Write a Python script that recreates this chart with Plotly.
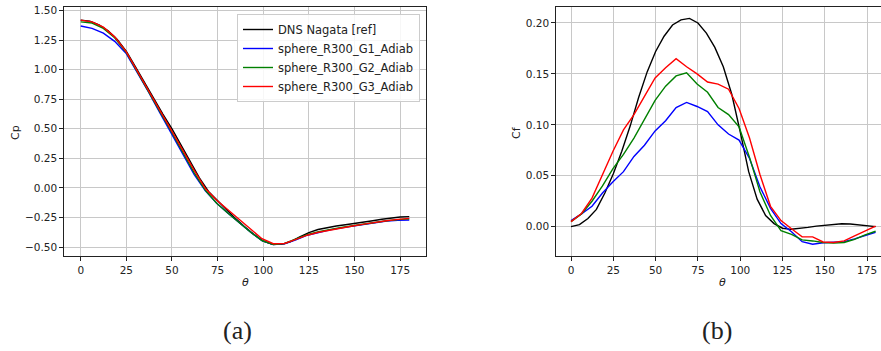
import plotly.graph_objects as go

# ---------------- data ----------------
theta_dns = [0, 5, 10, 15, 20, 25, 30, 35, 40, 45, 50, 55, 60, 65, 70, 75, 80, 85, 90,
             95, 100, 105, 110, 115, 120, 125, 130, 135, 140, 145, 150, 155, 160, 165,
             170, 175, 180]
theta_sim = [0.0, 6.2, 12.4, 18.6, 24.8, 31.0, 37.2, 43.4, 49.7, 55.9, 62.1, 68.3, 74.5,
             80.7, 86.9, 93.1, 99.3, 105.5, 111.7, 117.9, 124.1, 130.3, 136.6, 142.8,
             149.0, 155.2, 161.4, 167.6, 173.8, 180.0]

cp_dns = [1.42, 1.41, 1.38, 1.33, 1.255, 1.155, 1.025, 0.89, 0.755, 0.625, 0.50, 0.36,
          0.215, 0.085, -0.03, -0.11, -0.19, -0.262, -0.33, -0.395, -0.45, -0.478,
          -0.478, -0.455, -0.415, -0.378, -0.352, -0.335, -0.322, -0.312, -0.302, -0.29,
          -0.278, -0.265, -0.255, -0.246, -0.243]
cp_g1 = [1.37, 1.35, 1.31, 1.24, 1.14, 0.98, 0.81, 0.635, 0.46, 0.28, 0.115, -0.025,
         -0.13, -0.215, -0.295, -0.375, -0.445, -0.478, -0.472, -0.44, -0.40, -0.375,
         -0.355, -0.338, -0.322, -0.306, -0.292, -0.28, -0.275, -0.272]
cp_g2 = [1.405, 1.395, 1.35, 1.27, 1.15, 0.985, 0.815, 0.645, 0.475, 0.30, 0.13, -0.02,
         -0.13, -0.215, -0.295, -0.375, -0.445, -0.478, -0.47, -0.435, -0.395, -0.37,
         -0.35, -0.335, -0.32, -0.305, -0.29, -0.278, -0.268, -0.262]
cp_g3 = [1.42, 1.405, 1.36, 1.278, 1.155, 0.99, 0.82, 0.655, 0.49, 0.32, 0.15, -0.005,
         -0.105, -0.185, -0.265, -0.35, -0.43, -0.472, -0.47, -0.435, -0.40, -0.375,
         -0.355, -0.338, -0.322, -0.306, -0.29, -0.278, -0.266, -0.258]

cf_dns = [0.0, 0.002, 0.008, 0.017, 0.033, 0.052, 0.074, 0.099, 0.127, 0.152, 0.172,
          0.187, 0.198, 0.203, 0.2045, 0.200, 0.190, 0.176, 0.157, 0.130, 0.093, 0.054,
          0.027, 0.011, 0.003, -0.0015, -0.0026, -0.002, -0.0007, 0.0005, 0.0012, 0.002,
          0.0028, 0.0026, 0.0016, 0.0008, 0.0]
cf_g1 = [0.006, 0.0125, 0.020, 0.033, 0.044, 0.054, 0.069, 0.080, 0.094, 0.104, 0.117,
         0.122, 0.118, 0.113, 0.100, 0.091, 0.085, 0.067, 0.039, 0.018, 0.003, -0.005,
         -0.0147, -0.0172, -0.0158, -0.0155, -0.0147, -0.012, -0.0088, -0.0055]
cf_g2 = [0.005, 0.0125, 0.025, 0.040, 0.057, 0.071, 0.087, 0.106, 0.124, 0.138, 0.148,
         0.151, 0.140, 0.132, 0.117, 0.110, 0.098, 0.068, 0.034, 0.011, -0.004, -0.0075,
         -0.013, -0.014, -0.0155, -0.0162, -0.0155, -0.0125, -0.008, -0.0045]
cf_g3 = [0.005, 0.013, 0.028, 0.051, 0.074, 0.095, 0.110, 0.128, 0.146, 0.156, 0.165,
         0.157, 0.150, 0.142, 0.140, 0.135, 0.116, 0.087, 0.051, 0.020, 0.006, -0.002,
         -0.010, -0.010, -0.015, -0.0155, -0.014, -0.009, -0.004, 0.0005]

series_names = ["DNS Nagata [ref]", "sphere_R300_G1_Adiab",
                "sphere_R300_G2_Adiab", "sphere_R300_G3_Adiab"]
colors = ["#000000", "#0000ff", "#008000", "#ff0000"]

# ---------------- figure ----------------
W, H = 881, 351
fig = go.Figure()

cp_sets = [(theta_dns, cp_dns), (theta_sim, cp_g1), (theta_sim, cp_g2), (theta_sim, cp_g3)]
cf_sets = [(theta_dns, cf_dns), (theta_sim, cf_g1), (theta_sim, cf_g2), (theta_sim, cf_g3)]

for (x, y), name, c in zip(cp_sets, series_names, colors):
    fig.add_trace(go.Scatter(x=x, y=y, mode="lines", name=name,
                             line=dict(color=c, width=1.4),
                             xaxis="x", yaxis="y", showlegend=True))
for (x, y), name, c in zip(cf_sets, series_names, colors):
    fig.add_trace(go.Scatter(x=x, y=y, mode="lines", name=name,
                             line=dict(color=c, width=1.4),
                             xaxis="x2", yaxis="y2", showlegend=False))

ydom = [1 - 256 / H, 1 - 7.3 / H]
tickfont = dict(family="DejaVu Sans", size=10.5, color="#222222")
common = dict(showgrid=True, gridcolor="#c8c8c8", gridwidth=1, zeroline=False,
              showline=True, linecolor="#222222", linewidth=1,
              ticks="outside", ticklen=4, tickwidth=1, tickcolor="#222222",
              tickfont=tickfont, automargin=False)

fig.update_layout(
    width=W, height=H, autosize=False,
    margin=dict(l=0, r=0, t=0, b=0),
    paper_bgcolor="white", plot_bgcolor="white",
    xaxis=dict(domain=[64.3 / W, 425.7 / W], range=[-9, 189], tick0=0, dtick=25,
               anchor="y", mirror=True, **common),
    yaxis=dict(domain=ydom, range=[-0.576, 1.528], tick0=0, dtick=0.25,
               tickformat=".2f", anchor="x", mirror=True, **common),
    xaxis2=dict(domain=[556.3 / W, 1.0], range=[-8.7, 183.2], tick0=0, dtick=25,
                anchor="y2", mirror=True, **common),
    yaxis2=dict(domain=ydom, range=[-0.0288, 0.2154], tick0=0, dtick=0.05,
                tickformat=".2f", anchor="x2", mirror=False, **common),
    legend=dict(x=420 / W, xanchor="right", y=1 - 14 / H, yanchor="top",
                bgcolor="rgba(255,255,255,0.85)", bordercolor="#cccccc", borderwidth=1,
                font=dict(family="DejaVu Sans", size=11.5, color="#222222"),
                tracegroupgap=0, itemwidth=30),
    showlegend=True,
)

annots = [
    dict(text="Cp", x=15 / W, y=1 - 133 / H, textangle=-90, size=11, fam="DejaVu Sans"),
    dict(text="Cf", x=516 / W, y=1 - 133 / H, textangle=-90, size=11, fam="DejaVu Sans"),
    dict(text="<i>θ</i>", x=245 / W, y=1 - 282 / H, textangle=0, size=11, fam="DejaVu Sans"),
    dict(text="<i>θ</i>", x=722.5 / W, y=1 - 282 / H, textangle=0, size=11, fam="DejaVu Sans"),
    dict(text="(a)", x=237 / W, y=1 - 330 / H, textangle=0, size=26, fam="Liberation Serif"),
    dict(text="(b)", x=717 / W, y=1 - 330 / H, textangle=0, size=26, fam="Liberation Serif"),
]
for a in annots:
    fig.add_annotation(text=a["text"], x=a["x"], y=a["y"], xref="paper", yref="paper",
                       xanchor="center", yanchor="middle", showarrow=False,
                       textangle=a["textangle"],
                       font=dict(family=a["fam"], size=a["size"], color="#222222"))

fig.write_html("out.html")
